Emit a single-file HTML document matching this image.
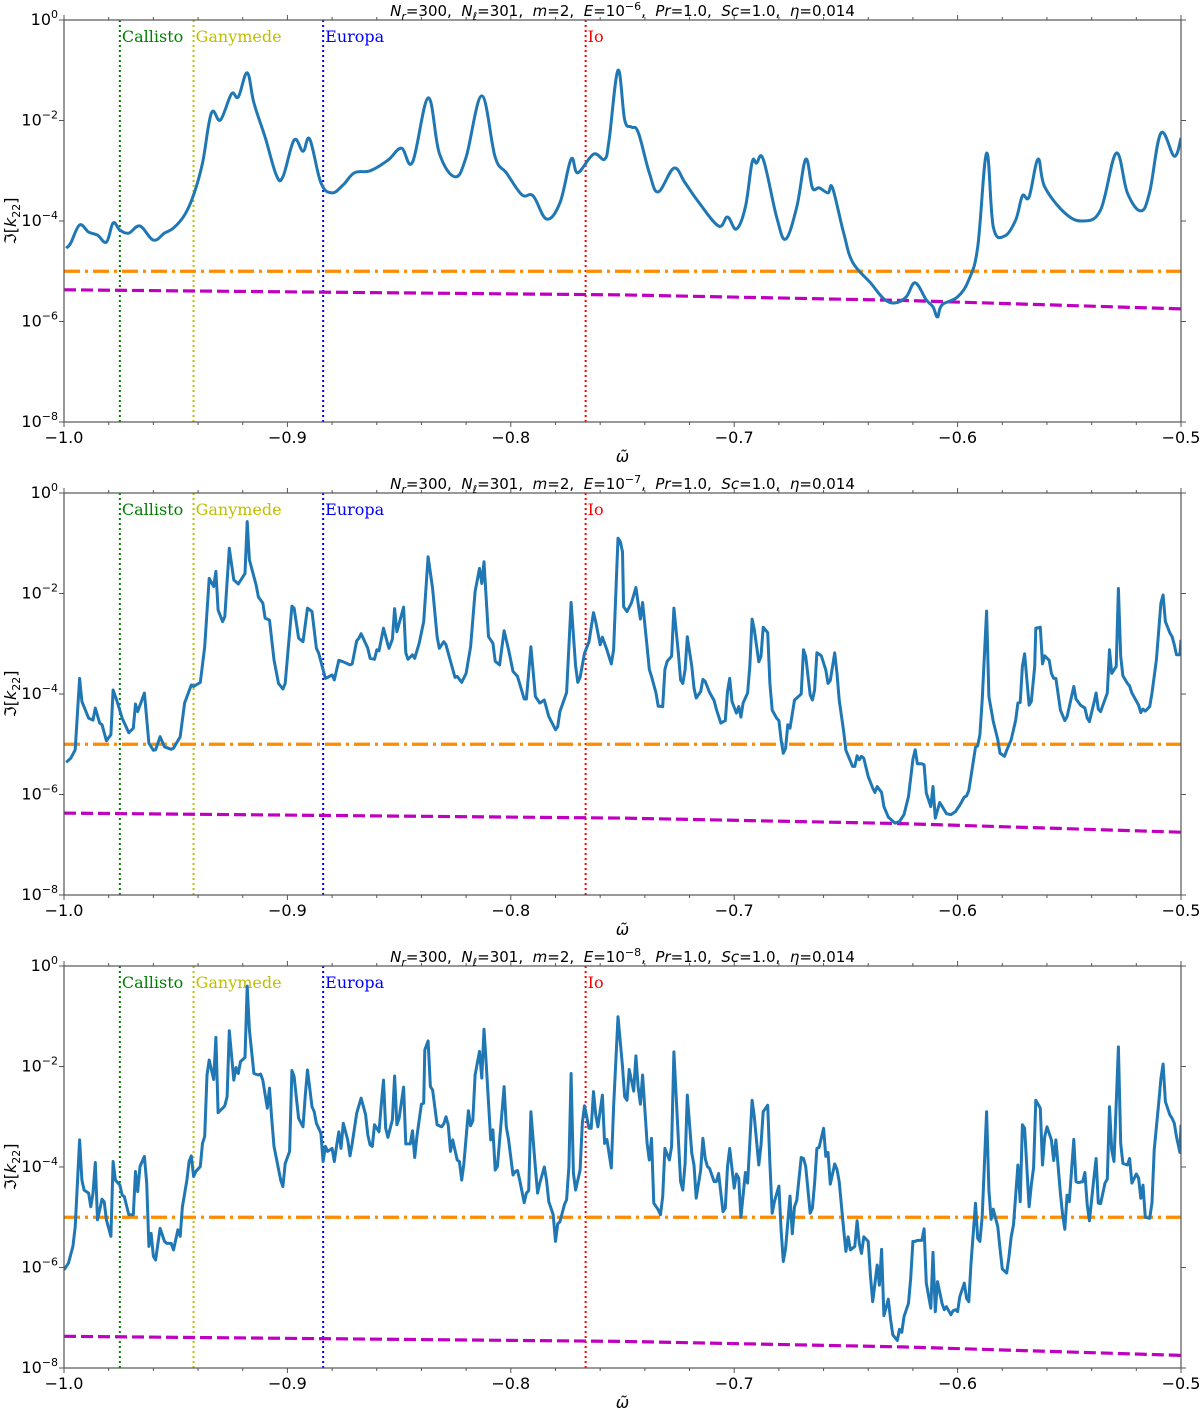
<!DOCTYPE html>
<html><head><meta charset="utf-8">
<style>
body{margin:0;background:#fff;}
svg{display:block;font-family:"DejaVu Sans","Liberation Sans",sans-serif;}
.tk{font-size:16px;fill:#000;}
.ttl{font-size:15px;fill:#000;white-space:pre;}
.moon{font-family:"DejaVu Serif","Liberation Serif",serif;font-size:16px;}
</style></head>
<body>
<svg id="fig" width="1200" height="1408" viewBox="0 0 1200 1408" xmlns="http://www.w3.org/2000/svg"></svg>
<script>
// ---------- data ----------
const moonNames = ["Callisto","Ganymede","Europa","Io"];
const moonOmega = [-0.975,-0.942,-0.884,-0.7665];
const moonColors = ["#007f00","#bfbf00","#0000ff","#ff0000"];
const ekmanExp = [-6,-7,-8];
const thresholdLog = -5;
const viscOmega = [-1.0,-0.75,-0.625,-0.5];
const viscLog1 = [-5.37,-5.47,-5.58,-5.75];
const viscLog2 = [-6.37,-6.47,-6.58,-6.75];
const viscLog3 = [-7.37,-7.47,-7.58,-7.75];
const xTicks = [-1.0,-0.9,-0.8,-0.7,-0.6,-0.5];
const xTickLabels = ["\u22121.0","\u22120.9","\u22120.8","\u22120.7","\u22120.6","\u22120.5"];
const yTicks = [0,-2,-4,-6,-8];

const om1 = [-0.999,-0.997,-0.993,-0.989,-0.985,-0.981,-0.978,-0.975,-0.971,-0.966,-0.960,-0.955,-0.951,-0.946,-0.942,-0.938,-0.934,-0.930,-0.925,-0.922,-0.918,-0.915,-0.910,-0.905,-0.902,-0.897,-0.893,-0.890,-0.885,-0.880,-0.875,-0.870,-0.863,-0.855,-0.849,-0.844,-0.837,-0.832,-0.825,-0.820,-0.813,-0.807,-0.802,-0.795,-0.790,-0.784,-0.778,-0.773,-0.770,-0.763,-0.758,-0.756,-0.752,-0.749,-0.746,-0.743,-0.738,-0.734,-0.727,-0.722,-0.716,-0.707,-0.703,-0.699,-0.695,-0.692,-0.690,-0.687,-0.681,-0.677,-0.672,-0.668,-0.665,-0.662,-0.658,-0.656,-0.651,-0.647,-0.639,-0.633,-0.628,-0.623,-0.619,-0.614,-0.611,-0.609,-0.607,-0.600,-0.595,-0.591,-0.587,-0.584,-0.579,-0.574,-0.571,-0.568,-0.564,-0.561,-0.552,-0.544,-0.536,-0.529,-0.524,-0.518,-0.514,-0.509,-0.503,-0.500];
const lk1 = [-4.54,-4.44,-4.08,-4.22,-4.28,-4.42,-4.04,-4.18,-4.24,-4.10,-4.38,-4.24,-4.14,-3.88,-3.48,-2.85,-1.85,-1.99,-1.47,-1.53,-1.05,-1.65,-2.33,-3.08,-3.12,-2.39,-2.61,-2.37,-3.24,-3.44,-3.28,-3.04,-3.00,-2.79,-2.55,-2.83,-1.55,-2.65,-3.12,-2.73,-1.51,-2.73,-3.04,-3.48,-3.50,-3.96,-3.64,-2.77,-3.04,-2.67,-2.77,-2.39,-1.00,-1.99,-2.13,-2.23,-3.04,-3.42,-2.95,-3.24,-3.62,-4.10,-3.92,-4.16,-3.72,-2.83,-2.85,-2.77,-3.92,-4.36,-3.72,-2.77,-3.34,-3.34,-3.44,-3.34,-4.24,-4.82,-5.23,-5.55,-5.63,-5.51,-5.23,-5.57,-5.71,-5.91,-5.67,-5.51,-5.17,-4.52,-2.65,-4.12,-4.30,-3.98,-3.50,-3.52,-2.77,-3.32,-3.84,-4.00,-3.78,-2.65,-3.44,-3.80,-3.42,-2.25,-2.71,-2.35];

const om2 = [-0.999,-0.997,-0.995,-0.993,-0.992,-0.989,-0.987,-0.986,-0.984,-0.983,-0.981,-0.979,-0.978,-0.976,-0.974,-0.971,-0.969,-0.968,-0.967,-0.964,-0.962,-0.960,-0.959,-0.957,-0.955,-0.952,-0.951,-0.948,-0.946,-0.943,-0.942,-0.939,-0.937,-0.935,-0.933,-0.932,-0.931,-0.929,-0.928,-0.926,-0.924,-0.922,-0.919,-0.918,-0.917,-0.914,-0.913,-0.911,-0.910,-0.908,-0.906,-0.904,-0.902,-0.901,-0.898,-0.897,-0.895,-0.893,-0.891,-0.889,-0.887,-0.886,-0.883,-0.882,-0.880,-0.879,-0.877,-0.875,-0.872,-0.871,-0.869,-0.868,-0.867,-0.864,-0.863,-0.861,-0.860,-0.859,-0.857,-0.855,-0.8545,-0.853,-0.852,-0.851,-0.848,-0.847,-0.846,-0.844,-0.843,-0.841,-0.839,-0.837,-0.835,-0.833,-0.832,-0.830,-0.829,-0.827,-0.825,-0.824,-0.822,-0.820,-0.818,-0.816,-0.814,-0.813,-0.812,-0.810,-0.808,-0.807,-0.805,-0.803,-0.801,-0.799,-0.797,-0.794,-0.793,-0.791,-0.789,-0.787,-0.785,-0.783,-0.780,-0.779,-0.778,-0.775,-0.773,-0.771,-0.770,-0.769,-0.767,-0.765,-0.763,-0.762,-0.760,-0.759,-0.757,-0.755,-0.754,-0.752,
-0.751,-0.750,-0.7495,-0.748,-0.746,-0.744,-0.743,-0.742,-0.741,-0.739,-0.738,-0.737,-0.735,-0.734,-0.732,-0.731,-0.730,-0.728,-0.727,-0.725,-0.724,-0.723,-0.722,-0.721,-0.719,-0.718,-0.717,-0.715,-0.714,-0.713,-0.711,-0.709,-0.708,-0.706,-0.704,-0.703,-0.702,-0.701,-0.699,-0.698,-0.697,-0.696,-0.694,-0.693,-0.692,-0.691,-0.689,-0.688,-0.687,-0.685,-0.684,-0.683,-0.681,-0.680,-0.679,-0.678,-0.677,-0.676,-0.675,-0.673,-0.672,-0.670,-0.669,-0.668,-0.666,-0.665,-0.664,-0.663,-0.661,-0.659,-0.658,-0.657,-0.655,-0.654,-0.653,-0.651,-0.650,-0.647,-0.646,-0.645,-0.644,-0.643,-0.642,-0.640,-0.638,-0.637,-0.636,-0.634,-0.633,-0.631,-0.628,-0.626,-0.624,-0.622,-0.620,-0.619,-0.618,-0.616,-0.615,-0.614,-0.612,-0.611,-0.610,-0.608,-0.607,-0.605,-0.603,-0.601,-0.599,-0.597,-0.596,-0.595,-0.594,-0.592,-0.591,-0.590,-0.589,-0.587,-0.586,-0.584,-0.582,-0.581,-0.579,-0.578,-0.576,-0.574,-0.573,-0.572,-0.571,-0.570,-0.568,-0.567,-0.5655,-0.565,-0.563,-0.562,-0.561,-0.559,-0.558,-0.557,-0.556,-0.554,-0.552,-0.551,-0.548,-0.547,-0.545,-0.543,-0.542,-0.541,-0.539,-0.538,-0.537,-0.536,-0.533,-0.532,-0.531,-0.529,-0.528,-0.527,-0.526,-0.524,-0.523,-0.522,-0.519,-0.518,-0.517,-0.516,-0.514,-0.513,-0.511,-0.509,-0.508,-0.507,-0.505,-0.504,-0.503,-0.502,-0.5005,-0.500];
const lk2 = [-5.36,-5.28,-5.11,-3.69,-4.15,-4.48,-4.52,-4.28,-4.58,-4.61,-4.93,-4.81,-3.92,-4.18,-4.48,-4.77,-4.68,-4.20,-4.35,-3.98,-4.98,-5.12,-5.11,-4.85,-5.05,-5.10,-5.08,-4.85,-4.18,-3.82,-3.85,-3.77,-3.06,-1.70,-1.86,-1.56,-2.33,-2.56,-2.46,-1.10,-1.73,-1.81,-1.60,-0.57,-1.33,-1.83,-2.07,-2.19,-2.49,-2.53,-3.32,-3.79,-3.90,-3.79,-2.25,-2.29,-2.89,-2.96,-2.29,-2.36,-3.09,-3.19,-3.69,-3.67,-3.62,-3.72,-3.33,-3.36,-3.42,-3.40,-2.94,-2.89,-2.80,-3.09,-3.29,-3.31,-3.12,-3.14,-2.69,-3.02,-3.09,-2.91,-2.30,-2.76,-2.27,-3.18,-3.31,-3.22,-3.29,-2.99,-2.56,-1.27,-1.90,-2.86,-3.09,-2.96,-3.02,-3.35,-3.67,-3.65,-3.77,-3.59,-3.06,-1.96,-1.50,-1.80,-1.37,-2.86,-2.99,-3.35,-3.42,-2.74,-3.12,-3.55,-3.65,-4.10,-4.10,-3.06,-4.05,-4.18,-4.12,-4.45,-4.71,-4.65,-4.35,-3.97,-2.18,-3.44,-3.77,-3.67,-3.19,-2.96,-2.38,-2.56,-3.02,-2.87,-3.12,-3.40,-3.12,-0.90,
-0.97,-1.17,-2.26,-2.36,-2.19,-1.88,-2.19,-2.51,-2.18,-3.06,-3.51,-3.65,-3.98,-4.24,-4.25,-3.51,-3.35,-3.25,-2.29,-3.19,-3.72,-3.79,-3.52,-2.86,-3.45,-3.88,-4.08,-3.95,-3.71,-3.75,-3.97,-4.13,-4.30,-4.58,-4.53,-3.95,-3.69,-4.15,-4.38,-4.25,-4.46,-4.18,-3.98,-3.45,-2.51,-2.72,-3.36,-3.25,-2.67,-2.78,-3.79,-4.32,-4.48,-4.53,-4.91,-5.18,-5.08,-4.61,-4.68,-4.12,-4.08,-4.00,-3.12,-3.25,-4.02,-4.12,-3.92,-3.18,-3.24,-3.52,-3.79,-3.73,-3.18,-3.59,-4.12,-4.75,-5.12,-5.44,-5.44,-5.23,-5.31,-5.24,-5.28,-5.64,-5.87,-5.96,-5.84,-5.96,-6.24,-6.45,-6.57,-6.54,-6.40,-6.04,-5.30,-5.11,-5.39,-5.39,-5.41,-5.97,-6.24,-5.84,-6.47,-6.16,-6.23,-6.38,-6.40,-6.34,-6.21,-6.05,-6.03,-5.92,-5.64,-5.06,-5.03,-4.81,-4.12,-2.35,-4.05,-4.55,-4.91,-5.18,-5.24,-5.12,-4.91,-4.52,-4.18,-4.17,-3.45,-3.20,-4.22,-4.15,-3.45,-2.69,-2.67,-3.40,-3.24,-3.33,-3.59,-3.69,-3.69,-4.32,-4.53,-4.45,-3.85,-4.10,-4.22,-4.28,-4.48,-4.55,-4.18,-3.98,-4.30,-4.35,-3.98,-3.12,-3.59,-3.45,-1.90,-3.25,-3.64,-3.79,-3.84,-3.98,-4.22,-4.37,-4.30,-4.34,-4.25,-3.98,-3.32,-2.19,-2.03,-2.56,-2.78,-2.86,-3.02,-3.22,-3.22,-2.92];

const om3 = [-1.000,-0.998,-0.996,-0.995,-0.993,-0.992,-0.991,-0.989,-0.988,-0.987,-0.986,-0.985,-0.983,-0.982,-0.981,-0.979,-0.978,-0.977,-0.975,-0.974,-0.973,-0.971,-0.969,-0.968,-0.967,-0.966,-0.964,-0.963,-0.962,-0.961,-0.960,-0.959,-0.957,-0.955,-0.954,-0.952,-0.951,-0.949,-0.948,-0.947,-0.945,-0.944,-0.943,-0.942,-0.941,-0.939,-0.938,-0.937,-0.936,-0.935,-0.933,-0.932,-0.931,-0.929,-0.928,-0.927,-0.926,-0.924,-0.923,-0.922,-0.921,-0.919,-0.918,-0.917,-0.915,-0.913,-0.912,-0.911,-0.909,-0.908,-0.907,-0.906,-0.903,-0.902,-0.901,-0.899,-0.898,-0.897,-0.895,-0.893,-0.892,-0.891,-0.889,-0.888,-0.887,-0.885,-0.884,-0.883,-0.882,-0.880,-0.879,-0.878,-0.877,-0.876,-0.875,-0.873,-0.872,-0.871,-0.869,-0.867,-0.865,-0.864,-0.863,-0.862,-0.861,-0.859,-0.858,-0.857,-0.856,-0.855,-0.853,-0.852,-0.851,-0.850,-0.848,-0.847,-0.845,-0.844,-0.843,-0.842,-0.840,-0.839,-0.8385,-0.837,-0.836,-0.835,-0.833,-0.831,-0.830,-0.829,-0.828,-0.827,-0.826,-0.824,-0.823,-0.822,-0.821,-0.819,-0.818,-0.817,-0.816,-0.814,-0.813,-0.812,-0.811,-0.809,-0.808,-0.807,-0.806,-0.804,-0.803,-0.802,-0.801,-0.799,-0.798,-0.797,-0.796,-0.794,-0.793,-0.792,-0.791,-0.789,-0.788,-0.787,-0.785,-0.784,-0.783,-0.781,-0.780,-0.779,-0.778,-0.776,-0.775,-0.774,-0.773,-0.772,-0.771,-0.769,-0.768,-0.767,-0.765,-0.764,-0.763,-0.762,-0.761,-0.759,-0.758,-0.757,-0.755,-0.754,-0.752,
-0.750,-0.749,-0.748,-0.747,-0.745,-0.744,-0.743,-0.742,-0.741,-0.739,-0.738,-0.737,-0.736,-0.734,-0.733,-0.732,-0.731,-0.729,-0.728,-0.727,-0.725,-0.724,-0.723,-0.722,-0.721,-0.719,-0.718,-0.717,-0.715,-0.714,-0.713,-0.712,-0.711,-0.709,-0.708,-0.707,-0.705,-0.704,-0.703,-0.702,-0.700,-0.699,-0.698,-0.697,-0.695,-0.694,-0.693,-0.692,-0.691,-0.689,-0.688,-0.687,-0.685,-0.684,-0.683,-0.682,-0.680,-0.679,-0.678,-0.677,-0.675,-0.674,-0.673,-0.672,-0.670,-0.669,-0.668,-0.666,-0.665,-0.664,-0.663,-0.662,-0.660,-0.659,-0.658,-0.657,-0.655,-0.654,-0.653,-0.651,-0.650,-0.649,-0.648,-0.646,-0.645,-0.644,-0.643,-0.642,-0.640,-0.639,-0.638,-0.636,-0.635,-0.634,-0.633,-0.631,-0.630,-0.629,-0.627,-0.626,-0.625,-0.624,-0.622,-0.621,-0.620,-0.619,-0.618,-0.616,-0.615,-0.614,-0.612,-0.611,-0.610,-0.609,-0.607,-0.606,-0.605,-0.603,-0.602,-0.601,-0.600,-0.599,-0.597,-0.596,-0.595,-0.594,-0.592,-0.591,-0.590,-0.589,-0.587,-0.586,-0.585,-0.584,-0.582,-0.581,-0.580,-0.578,-0.577,-0.576,-0.575,-0.573,-0.572,-0.571,-0.570,-0.568,-0.567,-0.566,-0.565,-0.563,-0.562,-0.561,-0.560,-0.558,-0.557,-0.556,-0.554,-0.553,-0.552,-0.551,-0.550,-0.548,-0.547,-0.546,-0.544,-0.543,-0.542,-0.541,-0.539,-0.538,-0.537,-0.536,-0.534,-0.533,-0.532,-0.531,-0.530,-0.528,-0.527,-0.526,-0.524,-0.523,-0.522,-0.520,-0.519,-0.518,-0.517,-0.516,-0.514,-0.513,-0.512,-0.510,-0.509,-0.508,-0.507,-0.505,-0.504,-0.503,-0.502,-0.5005,-0.500];
const lk3 = [-6.05,-5.91,-5.58,-5.19,-3.46,-4.26,-4.46,-4.52,-4.79,-4.52,-3.91,-5.05,-4.64,-4.69,-5.05,-5.38,-3.89,-4.26,-4.36,-4.56,-4.59,-4.95,-4.95,-4.09,-4.49,-3.99,-3.79,-4.32,-5.58,-5.32,-5.78,-5.85,-5.22,-5.48,-5.52,-5.52,-5.65,-5.25,-5.38,-4.79,-4.26,-3.89,-3.78,-4.19,-4.09,-3.99,-3.53,-3.39,-2.17,-1.87,-2.26,-1.42,-2.92,-2.83,-2.78,-2.60,-1.29,-2.27,-2.02,-2.14,-1.90,-1.82,-0.40,-1.27,-2.14,-2.17,-2.15,-2.27,-2.83,-2.43,-3.06,-3.59,-4.26,-4.39,-3.93,-3.69,-2.08,-2.20,-3.03,-3.20,-2.57,-2.07,-2.80,-2.90,-3.13,-3.33,-3.89,-3.59,-3.69,-3.63,-3.89,-3.59,-3.30,-3.63,-3.13,-3.46,-3.78,-3.53,-2.93,-2.63,-2.96,-3.36,-3.56,-3.59,-3.16,-3.30,-2.77,-2.27,-3.23,-3.41,-3.06,-2.19,-3.16,-3.03,-2.41,-3.54,-3.54,-3.28,-3.81,-3.38,-2.75,-2.73,-1.67,-1.49,-2.40,-2.47,-3.16,-3.20,-3.14,-3.00,-3.16,-3.69,-3.46,-3.86,-3.89,-4.26,-3.93,-2.88,-3.18,-3.08,-2.17,-1.70,-2.23,-1.26,-1.94,-3.46,-3.26,-4.06,-3.99,-2.93,-2.40,-3.20,-3.46,-4.16,-4.09,-4.07,-4.26,-4.71,-4.52,-4.47,-2.90,-4.02,-4.52,-4.32,-4.00,-4.26,-4.69,-4.95,-5.48,-5.13,-5.09,-4.75,-4.65,-3.99,-2.14,-4.12,-4.46,-4.06,-3.13,-2.78,-3.23,-3.23,-2.50,-2.96,-3.20,-2.57,-3.53,-3.45,-4.02,-2.80,-1.01,
-2.00,-2.60,-2.67,-2.06,-2.49,-1.79,-2.40,-2.75,-2.17,-3.53,-3.86,-3.43,-4.72,-4.85,-4.95,-4.59,-3.63,-3.86,-3.59,-1.71,-3.46,-4.29,-4.46,-3.93,-2.57,-3.73,-3.96,-4.62,-4.06,-3.43,-3.83,-3.99,-4.03,-4.29,-4.29,-4.13,-4.89,-4.82,-3.99,-3.63,-4.42,-4.14,-4.22,-5.00,-4.11,-4.32,-3.53,-2.67,-3.00,-3.96,-3.56,-2.90,-2.77,-3.93,-4.92,-4.69,-4.38,-5.25,-5.88,-5.62,-4.58,-5.33,-4.79,-4.66,-3.81,-3.83,-3.99,-4.92,-4.82,-4.32,-3.63,-3.61,-3.23,-3.79,-3.71,-4.34,-3.94,-4.05,-4.29,-5.25,-5.68,-5.39,-5.65,-5.58,-5.07,-5.52,-5.72,-5.39,-5.48,-6.18,-6.68,-5.95,-6.35,-5.64,-6.96,-6.63,-7.04,-7.34,-7.45,-7.23,-7.29,-6.98,-6.71,-6.21,-5.48,-5.48,-5.46,-5.46,-5.23,-6.31,-6.81,-5.70,-6.88,-6.28,-6.71,-6.84,-6.78,-6.94,-6.86,-6.84,-6.88,-6.58,-6.31,-6.61,-6.68,-5.92,-4.72,-5.42,-5.48,-4.99,-2.90,-4.46,-5.04,-4.84,-5.19,-5.62,-6.03,-6.11,-5.78,-5.39,-5.15,-3.96,-4.69,-3.16,-3.23,-4.79,-4.36,-4.01,-2.67,-2.83,-3.96,-3.40,-3.20,-3.46,-3.87,-3.46,-4.52,-4.95,-5.24,-4.56,-4.69,-3.45,-4.29,-4.31,-4.29,-4.11,-4.75,-5.07,-4.22,-3.83,-4.72,-4.73,-4.32,-4.24,-2.80,-3.66,-3.89,-1.61,-3.53,-3.93,-3.96,-3.83,-4.32,-4.14,-4.22,-4.62,-4.36,-5.00,-5.02,-4.71,-3.66,-2.73,-2.24,-1.95,-2.70,-2.96,-3.03,-3.13,-3.40,-3.71,-3.16];

// ---------- drawing ----------
const NS = "http://www.w3.org/2000/svg";
const svg = document.getElementById("fig");
const L = 64, R = 1181, H = 402, DEC = H/8;
const panelTops = [20, 493, 966];
const X = w => L + (w + 1) * (R - L) / 0.5;
function mk(tag, attrs, parent) {
  const e = document.createElementNS(NS, tag);
  for (const k in attrs) e.setAttribute(k, attrs[k]);
  (parent || svg).appendChild(e);
  return e;
}
function pathFrom(oms, lks, Y) {
  return oms.map((w, i) => (i ? "L" : "M") + X(w).toFixed(1) + " " + Y(lks[i]).toFixed(1)).join(" ");
}
function smoothPath(oms, lks, Y) {
  const P = oms.map((w, i) => [X(w), Y(lks[i])]);
  let d = "M" + P[0][0].toFixed(1) + " " + P[0][1].toFixed(1);
  for (let i = 0; i < P.length - 1; i++) {
    const p0 = P[Math.max(0, i - 1)], p1 = P[i], p2 = P[i + 1], p3 = P[Math.min(P.length - 1, i + 2)];
    const t = 0.18;
    const c1 = [p1[0] + (p2[0] - p0[0]) * t, p1[1] + (p2[1] - p0[1]) * t];
    const c2 = [p2[0] - (p3[0] - p1[0]) * t, p2[1] - (p3[1] - p1[1]) * t];
    d += " C" + c1[0].toFixed(1) + " " + c1[1].toFixed(1) + " " + c2[0].toFixed(1) + " " + c2[1].toFixed(1) + " " + p2[0].toFixed(1) + " " + p2[1].toFixed(1);
  }
  return d;
}
const omegas = [om1, om2, om3];
const logs = [lk1, lk2, lk3];
const viscs = [viscLog1, viscLog2, viscLog3];

panelTops.forEach((top, p) => {
  const Y = lg => top - lg * DEC;
  const g = mk("g", {});
  
  
  const clipId = "clip" + p;
  const cp = mk("clipPath", {id: clipId}, g);
  mk("rect", {x: L, y: top, width: R - L, height: H}, cp);

  moonNames.forEach((n, i) => {
    const ln = mk("line", {x1: X(moonOmega[i]), x2: X(moonOmega[i]), y1: top, y2: top + H, stroke: moonColors[i], "stroke-width": 2, "stroke-dasharray": "2,3"}, g);
    
    
    const t = mk("text", {x: X(moonOmega[i]) + 2, y: top + 22, fill: moonColors[i], class: "moon"}, g);
    t.textContent = n;
    
    
  });
  const th = mk("line", {x1: L, x2: R, y1: Y(thresholdLog), y2: Y(thresholdLog), stroke: "#ff8c00", "stroke-width": 3.2, "stroke-dasharray": "16,5,3,5"}, g);
  
  
  const vp = mk("path", {d: pathFrom(viscOmega, viscs[p], Y), fill: "none", stroke: "#c000c0", "stroke-width": 3.2, "stroke-dasharray": "12,5"}, g);
  
  
  const d = p === 0 ? smoothPath(omegas[p], logs[p], Y) : pathFrom(omegas[p], logs[p], Y);
  const sp = mk("path", {d: d, fill: "none", stroke: "#1f77b4", "stroke-width": 3, "stroke-linejoin": "round", "clip-path": "url(#" + clipId + ")"}, g);
  
  

  const fr = mk("rect", {x: L, y: top, width: R - L, height: H, fill: "none", stroke: "#555", "stroke-width": 1.2}, g);
  
  
  for (let k = 0; k <= 25; k++) {
    const w = -1 + k * 0.02, x = X(w), major = k % 5 === 0, len = major ? 5 : 3;
    mk("line", {x1: x, x2: x, y1: top + H, y2: top + H + len, stroke: "#555", "stroke-width": 1}, g);
    mk("line", {x1: x, x2: x, y1: top, y2: top - len, stroke: "#555", "stroke-width": 1}, g);
  }
  xTicks.forEach((w, i) => {
    const t = mk("text", {x: X(w), y: top + H + 21, "text-anchor": "middle", class: "tk"}, g);
    t.textContent = xTickLabels[i];
    
    
  });
  yTicks.forEach(v => {
    const y = Y(v);
    mk("line", {x1: L, x2: L - 5, y1: y, y2: y, stroke: "#555", "stroke-width": 1}, g);
    mk("line", {x1: R, x2: R + 5, y1: y, y2: y, stroke: "#555", "stroke-width": 1}, g);
    const t = mk("text", {x: L - 6, y: y + 5, "text-anchor": "end", class: "tk"}, g);
    
    
    const a = mk("tspan", {}, t); a.textContent = "10";
    const b = mk("tspan", {dy: -7, "font-size": "11px"}, t); b.textContent = v === 0 ? "0" : "\u2212" + (-v);
  });
  const xl = mk("text", {x: (L + R) / 2, y: top + H + 40, "text-anchor": "middle", class: "tk", "font-style": "italic"}, g);
  xl.textContent = "\u03C9\u0303";
  
  
  const yl = mk("text", {x: 0, y: 0, "text-anchor": "middle", class: "tk", transform: "translate(16," + (top + H / 2) + ") rotate(-90)"}, g);
  
  
  const y1 = mk("tspan", {}, yl); y1.textContent = "\u2111[";
  const y2 = mk("tspan", {"font-style": "italic"}, yl); y2.textContent = "k";
  const y3 = mk("tspan", {dy: 4, "font-size": "11px"}, yl); y3.textContent = "22";
  const y4 = mk("tspan", {dy: -4}, yl); y4.textContent = "]";
  const tt = mk("text", {x: (L + R) / 2, y: top - 4, "text-anchor": "middle", class: "ttl"}, g);
  
  
  const parts = [
    ["N", "i"], ["r", "sub"], ["=300,  ", ""], ["N", "i"], ["\u2113", "sub"], ["=301,  ", ""],
    ["m", "i"], ["=2,  ", ""], ["E", "i"], ["=10", ""], ["\u2212" + (-ekmanExp[p]), "sup"], [",  ", "back"],
    ["Pr", "i"], ["=1.0,  ", ""], ["Sc", "i"], ["=1.0,  ", ""], ["\u03B7", "i"], ["=0.014", ""]
  ];
  let shift = 0;
  parts.forEach(([s, st]) => {
    const a = {};
    if (st === "i") a["font-style"] = "italic";
    if (st === "sub") { a.dy = 4 - shift; shift = 4; a["font-size"] = "11px"; a["font-style"] = "italic"; }
    else if (st === "sup") { a.dy = -6 - shift; shift = -6; a["font-size"] = "11px"; }
    else if (shift !== 0) { a.dy = -shift; shift = 0; }
    const ts = mk("tspan", a, tt); ts.textContent = s.replace(/ /g, "\u00A0");
  });
});
</script>
</body></html>
